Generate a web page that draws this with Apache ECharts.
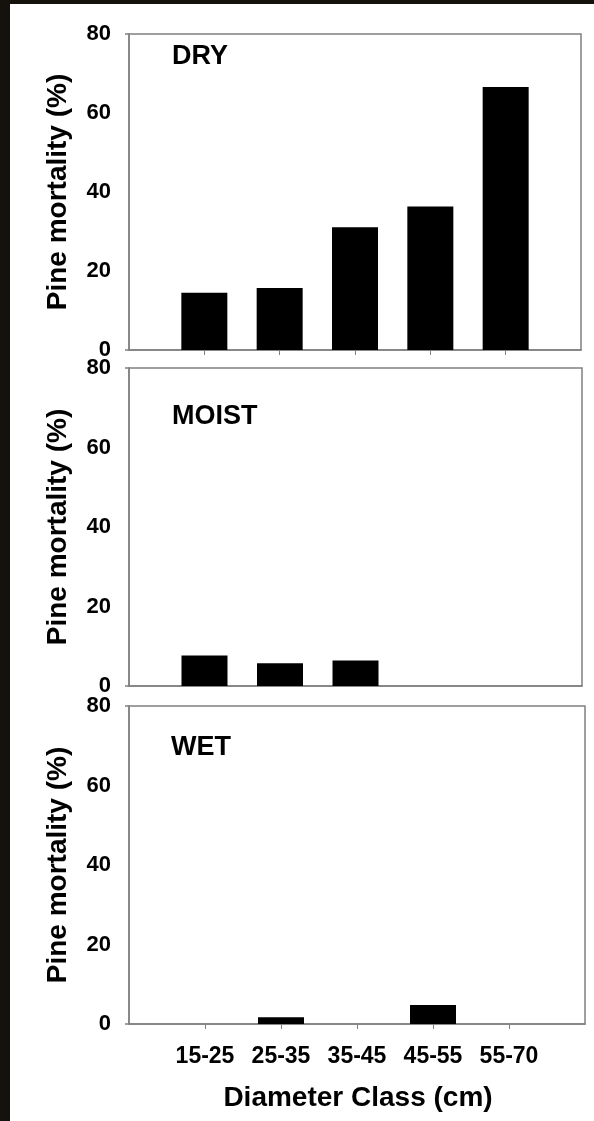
<!DOCTYPE html>
<html>
<head>
<meta charset="utf-8">
<script src="https://cdn.jsdelivr.net/npm/echarts@6/dist/echarts.min.js"></script>
<style>
  html, body { margin: 0; padding: 0; background: #fff; }
  #chart { width: 594px; height: 1121px; }
</style>
</head>
<body>
<div id="chart"></div>
<script>
  // diameter classes (cm)
  var categories = ['15-25', '25-35', '35-45', '45-55', '55-70']
  // pine mortality (%) by site type
  var dryValues = [14.5, 15.7, 31.1, 36.3, 66.6]
  var moistValues = [7.7, 5.7, 6.4, 0, 0]
  var wetValues = [0, 1.7, 0, 4.8, 0]
  var panelNames = ['DRY', 'MOIST', 'WET']
  var yTicks = [0, 20, 40, 60, 80]

  var font = 'Liberation Sans'
  var lineColor = '#808080'
  var slots = categories.map(function(c, i) { return i + 1 })

  var myChart = echarts.init(document.getElementById('chart'))

  // 三个面板的网格位置
  var grids = [
    { left: 129, right: 13, top: 34, height: 316 },
    { left: 129, right: 12, top: 368, height: 318 },
    { left: 129, right: 9, top: 706, height: 318 }
  ]
  var seriesData = [dryValues, moistValues, wetValues]
  var showTicks = [true, false, true]

  var option = {
    backgroundColor: '#fff',
    animation: false,
    grid: [],
    xAxis: [],
    yAxis: [],
    series: [],
    graphic: [
      { type: 'rect', shape: { x: 0, y: 0, width: 10, height: 1121 }, style: { fill: '#15120e' }, z: 100 },
      { type: 'rect', shape: { x: 0, y: 0, width: 594, height: 4 }, style: { fill: '#15120e' }, z: 100 },
      { type: 'text', x: 172, y: 56.5, style: { text: panelNames[0], font: 'bold 27px ' + font, fill: '#000', textVerticalAlign: 'middle' } },
      { type: 'text', x: 172, y: 417, style: { text: panelNames[1], font: 'bold 27px ' + font, fill: '#000', textVerticalAlign: 'middle' } },
      { type: 'text', x: 171, y: 747.5, style: { text: panelNames[2], font: 'bold 27px ' + font, fill: '#000', textVerticalAlign: 'middle' } },
      { type: 'text', x: 358, y: 1098, style: { text: 'Diameter Class (cm)', font: 'bold 28px ' + font, fill: '#000', textAlign: 'center', textVerticalAlign: 'middle' } }
    ]
  }

  for (var i = 0; i < 3; i++) {
    var g = grids[i]
    option.grid.push({
      left: g.left, right: g.right, top: g.top, height: g.height,
      show: true, borderColor: lineColor, borderWidth: 1.5, backgroundColor: '#fff'
    })
    option.xAxis.push({
      type: 'value',
      gridIndex: i,
      min: 0,
      max: 6,
      interval: 1,
      axisLine: { show: true, lineStyle: { color: lineColor, width: 1.5 } },
      axisTick: {
        show: showTicks[i],
        customValues: slots,
        length: 5,
        lineStyle: { color: lineColor, width: 1 }
      },
      axisLabel: {
        show: i === 2,
        customValues: slots,
        margin: 21,
        color: '#000',
        fontFamily: font,
        fontWeight: 'bold',
        fontSize: 23,
        formatter: function(v) { return categories[Math.round(v) - 1] || '' }
      },
      splitLine: { show: false }
    })
    option.yAxis.push({
      type: 'value',
      gridIndex: i,
      min: yTicks[0],
      max: yTicks[yTicks.length - 1],
      interval: 20,
      name: 'Pine mortality (%)',
      nameLocation: 'middle',
      nameGap: 57,
      nameTextStyle: { color: '#000', fontFamily: font, fontWeight: 'bold', fontSize: 28 },
      axisLine: { show: true, lineStyle: { color: lineColor, width: 1.5 } },
      axisTick: {
        show: true,
        customValues: [yTicks[0], yTicks[yTicks.length - 1]],
        length: 4,
        lineStyle: { color: lineColor, width: 1.5 }
      },
      axisLabel: {
        margin: 18,
        color: '#000',
        fontFamily: font,
        fontWeight: 'bold',
        fontSize: 22
      },
      splitLine: { show: false }
    })
    option.series.push({
      type: 'bar',
      xAxisIndex: i,
      yAxisIndex: i,
      barWidth: 46,
      itemStyle: { color: '#000' },
      data: seriesData[i].map(function(v, k) { return [slots[k], v] })
    })
  }

  myChart.setOption(option)
</script>
</body>
</html>
